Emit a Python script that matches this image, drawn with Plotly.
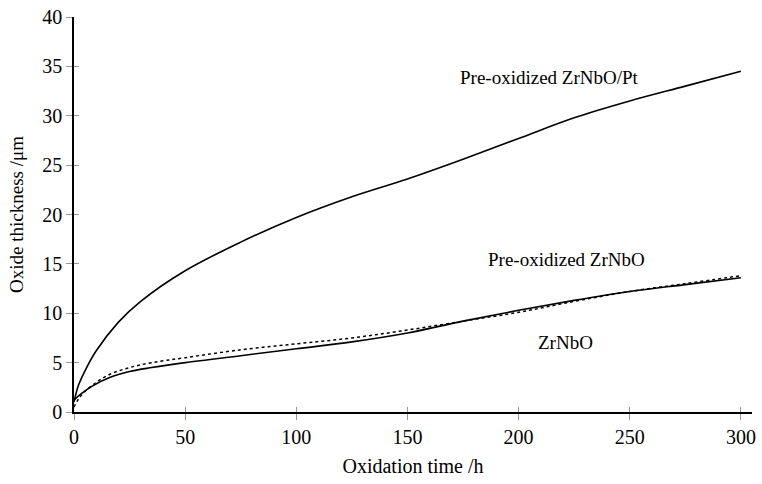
import plotly.graph_objects as go

# Pre-oxidized ZrNbO/Pt
t_pt = [0, 2, 5, 10, 20, 30, 50, 75, 100, 125, 150, 175, 200, 225, 250, 275, 300]
v_pt = [1.0, 2.7, 4.2, 6.2, 9.1, 11.2, 14.3, 17.2, 19.7, 21.8, 23.6, 25.6, 27.7, 29.8, 31.5, 33.0, 34.5]

# solid lower curve
t_a = [0, 3, 8, 16, 25, 35, 50, 75, 100, 125, 150, 175, 200, 225, 250, 275, 300]
v_a = [1.2, 1.8, 2.6, 3.5, 4.1, 4.5, 5.0, 5.7, 6.4, 7.1, 8.0, 9.2, 10.3, 11.3, 12.2, 12.9, 13.6]

# dotted lower curve
t_b = [0, 2, 5, 10, 16, 25, 35, 50, 75, 100, 125, 150, 175, 200, 225, 250, 275, 300]
v_b = [0.5, 1.3, 2.1, 3.0, 3.8, 4.5, 5.0, 5.5, 6.3, 6.9, 7.5, 8.3, 9.2, 10.1, 11.2, 12.2, 13.0, 13.8]

labels = ["Pre-oxidized ZrNbO/Pt", "Pre-oxidized ZrNbO", "ZrNbO"]
label_x = [213.7, 221.4, 220.9]
label_y = [33.9, 15.4, 7.0]

x_ticks = [0, 50, 100, 150, 200, 250, 300]
y_ticks = [0, 5, 10, 15, 20, 25, 30, 35, 40]

font = "Liberation Serif, Times New Roman, serif"

fig = go.Figure()
fig.add_trace(go.Scatter(x=t_pt, y=v_pt, mode="lines", line=dict(color="black", width=1.6, shape="spline", smoothing=1.0), showlegend=False))
fig.add_trace(go.Scatter(x=t_a, y=v_a, mode="lines", line=dict(color="black", width=1.6, shape="spline", smoothing=1.0), showlegend=False))
fig.add_trace(go.Scatter(x=t_b, y=v_b, mode="lines", line=dict(color="black", width=1.5, dash="dot", shape="spline", smoothing=1.0), showlegend=False))
# invisible trace for overlay axes (inside tick halves)
fig.add_trace(go.Scatter(x=[0], y=[0], xaxis="x2", yaxis="y2", mode="markers", marker=dict(opacity=0), showlegend=False, hoverinfo="skip"))

for txt, xx, yy in zip(labels, label_x, label_y):
    fig.add_annotation(x=xx, y=yy, text=txt, showarrow=False, font=dict(family=font, size=19, color="black"))

xr = [0, 305.0]
yr = [0, 40]
fig.update_layout(
    width=762, height=484,
    margin=dict(l=74, r=6, t=14, b=72),
    plot_bgcolor="white", paper_bgcolor="white",
    font=dict(family=font, size=19, color="black"),
    xaxis=dict(range=xr, tickvals=x_ticks, ticks="outside", ticklen=6, tickcolor="#999999",
               showline=True, linecolor="black", linewidth=1.6, showgrid=False, zeroline=False,
               tickfont=dict(family=font, size=20), title=dict(text="Oxidation time /h", font=dict(family=font, size=20), standoff=12)),
    yaxis=dict(range=yr, tickvals=y_ticks, ticks="outside", ticklen=6, tickcolor="#999999",
               showline=True, linecolor="black", linewidth=1.6, showgrid=False, zeroline=False,
               tickfont=dict(family=font, size=20), title=dict(text="Oxide thickness /μm", font=dict(family=font, size=19), standoff=14)),
    xaxis2=dict(range=xr, overlaying="x", tickvals=x_ticks, ticks="inside", ticklen=5, tickcolor="#999999",
                showticklabels=False, showgrid=False, zeroline=False, showline=False),
    yaxis2=dict(range=yr, overlaying="y", tickvals=y_ticks, ticks="inside", ticklen=5, tickcolor="#999999",
                showticklabels=False, showgrid=False, zeroline=False, showline=False),
)
fig.write_html("out.html")
